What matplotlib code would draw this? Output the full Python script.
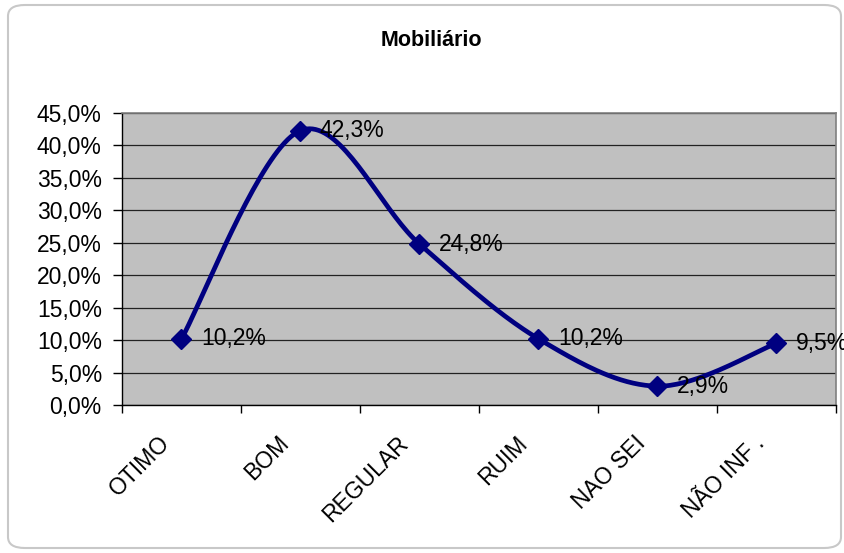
import numpy as np
import matplotlib
matplotlib.use("Agg")
import matplotlib.pyplot as plt
from matplotlib.patches import FancyBboxPatch
from matplotlib.transforms import ScaledTranslation

plt.rcParams['font.family'] = ['Liberation Sans', 'DejaVu Sans']

categories = ["OTIMO", "BOM", "REGULAR", "RUIM", "NAO SEI", "NÃO INF ."]
values = [10.2, 42.3, 24.8, 10.2, 2.9, 9.5]
labels = ["10,2%", "42,3%", "24,8%", "10,2%", "2,9%", "9,5%"]
yticks = [0, 5, 10, 15, 20, 25, 30, 35, 40, 45]
title = "Mobiliário"

fig = plt.figure(figsize=(8.45, 5.53), dpi=100)
fig.patch.set_facecolor("white")
border = FancyBboxPatch((8/845, 5/553), 833/845, 543/553,
                        boxstyle="round,pad=0,rounding_size=0.02",
                        transform=fig.transFigure, facecolor="white",
                        edgecolor="#c8c8c8", linewidth=1.5, zorder=-1)
fig.patches.append(border)

ax = fig.add_axes([122/845, 1-405/553, (836-122)/845, (405-113)/553])
ax.set_facecolor("#c0c0c0")

x = np.arange(len(values)) + 0.5
y = np.array(values, dtype=float)

# Excel-like smoothing via Catmull-Rom Bezier
pts = np.column_stack([x, y])
ext = np.vstack([pts[0], pts, pts[-1]])
curve = []
for i in range(len(pts) - 1):
    p0, p1, p2, p3 = ext[i], ext[i+1], ext[i+2], ext[i+3]
    c1 = p1 + (p2 - p0) / 6
    c2 = p2 - (p3 - p1) / 6
    t = np.linspace(0, 1, 40)[:, None]
    seg = (1-t)**3*p1 + 3*(1-t)**2*t*c1 + 3*(1-t)*t**2*c2 + t**3*p2
    curve.append(seg)
curve = np.vstack(curve)
ax.plot(curve[:, 0], curve[:, 1], color="#000080", lw=3.4, solid_capstyle="round", zorder=3)
ax.plot(x, y, linestyle="none", marker="D", ms=10, color="#000080", zorder=4, clip_on=False)

FS = 16.5
for xi, yi, lab in zip(x, y, labels):
    ax.annotate(lab, (xi, yi), xytext=(14, 0), textcoords="offset points",
                va="center", ha="left", fontsize=FS, color="black", zorder=5,
                annotation_clip=False)

ax.set_xlim(0, len(values))
ax.set_ylim(0, 45)
ax.set_yticks(yticks)
ax.set_yticklabels([f"{v:.1f}%".replace(".", ",") for v in yticks], fontsize=FS)
ax.yaxis.grid(True, color="#222222", lw=0.9)
ax.set_axisbelow(True)

ax.set_xticks(np.arange(len(values) + 1))
ax.set_xticklabels([])
ax.set_xticks(x, minor=True)
ax.set_xticklabels(categories, minor=True, rotation=45, ha="right", va="center",
                   rotation_mode="anchor", fontsize=FS)
ax.tick_params(axis="x", which="minor", length=0, pad=25)
ax.tick_params(axis="x", which="major", length=6, width=1, color="black", direction="out")
ax.tick_params(axis="y", length=6.5, width=1, color="black", direction="out", pad=8)
for lab in ax.get_xticklabels(minor=True):
    lab.set_transform(lab.get_transform() + ScaledTranslation(-15/100, 0, fig.dpi_scale_trans))

for s in ["top", "right"]:
    ax.spines[s].set_color("#808080")
    ax.spines[s].set_linewidth(1.2)
for s in ["left", "bottom"]:
    ax.spines[s].set_color("black")
    ax.spines[s].set_linewidth(1)

fig.text(431/845, 1-40/553, title, ha="center", va="center", fontsize=15.5, fontweight="bold")

fig.savefig("out.png", dpi=100, facecolor="white")
